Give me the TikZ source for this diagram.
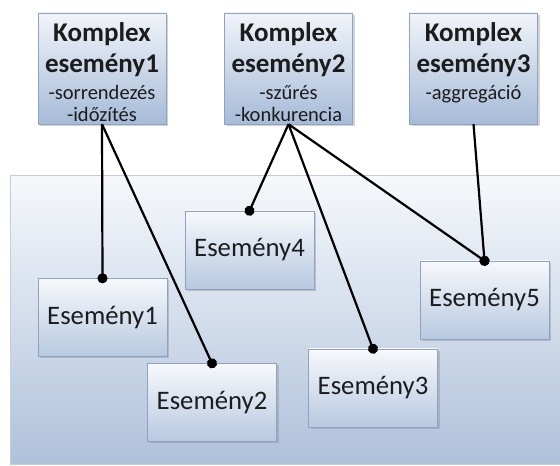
\documentclass[tikz,border=0pt]{standalone}
\usepackage{fontspec}
\setmainfont{Carlito}
\usetikzlibrary{arrows.meta,shadows}

\definecolor{boxline}{HTML}{8DA3C3}
\definecolor{boxtop}{HTML}{F1F4F9}
\definecolor{boxbot}{HTML}{A6BBD8}
\definecolor{bgtop}{HTML}{F6F8FB}
\definecolor{bgbot}{HTML}{AFC1DB}
\definecolor{bgline}{HTML}{C3CEDD}
\definecolor{txt}{HTML}{1C1C1C}

% title box text: top aligned
\newcommand{\komplex}[2]{\parbox[c][111pt][t]{128pt}{\centering
    \fontsize{27}{31}\selectfont\bfseries\rule{0pt}{29pt}Komplex\\esem\'eny#1\par
    \vspace{5pt}\fontsize{20.5}{22}\selectfont\mdseries #2\par}}

\begin{document}
\begin{tikzpicture}[x=1pt, y=1pt,
        kbox/.style={draw=boxline, top color=boxtop, bottom color=boxbot,
            inner sep=0pt, minimum width=128pt, minimum height=111pt, text=txt,
            drop shadow={shadow xshift=2pt, shadow yshift=-2pt, opacity=0.35}},
        ebox/.style={draw=boxline, top color=boxtop!60!white, bottom color=boxbot!80!white,
            minimum width=129pt, minimum height=78pt, text=txt,
            font=\fontsize{26.7}{30}\selectfont,
            drop shadow={shadow xshift=2pt, shadow yshift=-2pt, opacity=0.35}},
        link/.style={line width=2.2pt, -{Circle[length=10pt]}, shorten >=-5pt}]
    \useasboundingbox (0,0) rectangle (560,466);
    % background panel
    \shade[top color=bgtop, bottom color=bgbot, draw=bgline, line width=1pt]
        (10,1) rectangle (575,290);

    \node[kbox] (k1) at (102,397.5)   {\komplex{1}{-sorrendez\'es\\-id\H{o}z\'it\'es}};
    \node[kbox] (k2) at (288.5,397.5) {\komplex{2}{-sz\H{u}r\'es\\-konkurencia}};
    \node[kbox] (k3) at (473.5,397.5) {\komplex{3}{-aggreg\'aci\'o}};

    \node[ebox] (e1) at (102.5,148.5) {Esemény1};
    \node[ebox] (e2) at (212,63.5)    {Esemény2};
    \node[ebox] (e3) at (373,78)      {Esemény3};
    \node[ebox] (e4) at (249.5,216)   {Esemény4};
    \node[ebox] (e5) at (484.5,166)   {Esemény5};

    \draw[link] (k1.south) -- (e1.north);
    \draw[link] (k1.south) -- (e2.north);
    \draw[link] (k2.south) -- (e4.north);
    \draw[link] (k2.south) -- (e3.north);
    \draw[link] (k2.south) -- (e5.north);
    \draw[link] (k3.south) -- (e5.north);
\end{tikzpicture}
\end{document}
